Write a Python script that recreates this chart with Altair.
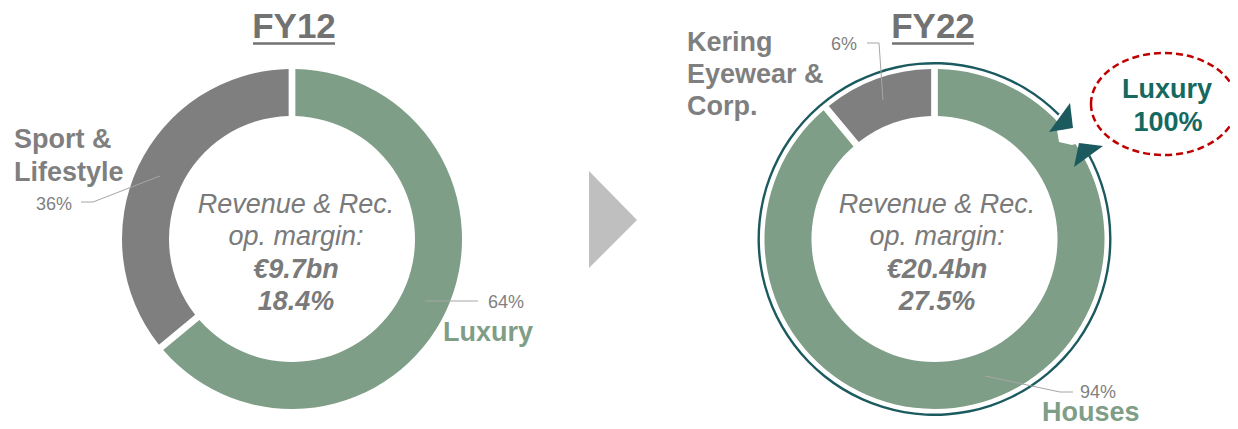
import math
import altair as alt
import pandas as pd

# ---------------- data ----------------
fy12_segments = ["Luxury", "Sport & Lifestyle"]
fy12_shares = [64, 36]            # drawn share of the ring
fy12_labels = ["64%", "36%"]

fy22_segments = ["Houses", "Kering Eyewear & Corp."]
fy22_shares = [89, 11]            # drawn share of the ring
fy22_labels = ["94%", "6%"]

titles = ["FY12", "FY22"]
center_lines_fy12 = ["Revenue & Rec.", "op. margin:", "€9.7bn", "18.4%"]
center_lines_fy22 = ["Revenue & Rec.", "op. margin:", "€20.4bn", "27.5%"]
callout_lines = ["Luxury", "100%"]

# ---------------- style ----------------
GREEN = "#7f9e87"
GRAY = "#7f7f7f"
TEXT_GRAY = "#7a7a7a"
TITLE_GRAY = "#727272"
LEADER = "#a6a6a6"
TEAL = "#1b5b5f"
TEAL_TEXT = "#16695f"
RED = "#c00000"
ARROW_GRAY = "#bfbfbf"
FONT = "Liberation Sans"

W, H = 1222, 413
M = 8  # page margin; coordinates below are page pixels

xs = alt.Scale(domain=[M, M + W], nice=False, zero=False)
ys = alt.Scale(domain=[M + H, M], nice=False, zero=False)
X = lambda f="x": alt.X(f"{f}:Q", scale=xs, axis=None)
Y = lambda f="y": alt.Y(f"{f}:Q", scale=ys, axis=None)

C1 = (292, 239)
C2 = (934.5, 239)
R_OUT, R_IN = 170, 123


def donut(names, shares, center):
    df = pd.DataFrame({
        "segment": names,
        "share": shares,
        "color": [GREEN, GRAY],
        "order": list(range(len(names))),
    })
    return alt.Chart(df).mark_arc(
        outerRadius=R_OUT, innerRadius=R_IN, padAngle=0.032
    ).encode(
        theta=alt.Theta("share:Q", stack=True),
        order=alt.Order("order:Q"),
        color=alt.Color("color:N", scale=None),
        x=alt.value(center[0] - M),
        y=alt.value(center[1] - M),
    )


layers = [donut(fy12_segments, fy12_shares, C1), donut(fy22_segments, fy22_shares, C2)]

# teal ring around FY22 (ends at the arrowheads)
ring = alt.Chart(pd.DataFrame({"k": [0]})).mark_arc(
    outerRadius=177, innerRadius=174.6,
    theta=math.radians(61), theta2=math.radians(45 + 360), color=TEAL,
).encode(x=alt.value(C2[0] - M), y=alt.value(C2[1] - M))
layers.append(ring)


def shape_layer(rows, **kw):
    df = pd.DataFrame(rows, columns=["x", "y", "shape"])
    charts = []
    for _, r in df.iterrows():
        charts.append(
            alt.Chart(pd.DataFrame([r])).mark_point(shape=r["shape"], size=4, opacity=1, **kw)
            .encode(x=X(), y=Y())
        )
    return charts

# white notch in the ring
layers += shape_layer([(1057, 130, "M0,0 L11,-1 L22,13 L15,15 L2,12 Z")], filled=True, color="white")
# teal arrowheads
layers += shape_layer([
    (1049, 132, "M0,0 L21,-29 L24,-4 Z"),
    (1074, 167, "M0,0 L5,-24 L29,-21 Z"),
], filled=True, color=TEAL)
# big grey chevron between the two years
layers += shape_layer([(589, 171, "M0,0 L0,97 L48,49 Z")], filled=True, color=ARROW_GRAY)
# dashed red ellipse
layers += shape_layer([(1164, 104, "M-73,0 A73,51 0 1,1 73,0 A73,51 0 1,1 -73,0 Z")],
                      filled=False, color=RED, strokeWidth=2.5, strokeDash=[7, 4])

# leader lines
leaders = pd.DataFrame([
    ("a", 0, 81, 202), ("a", 1, 93, 202), ("a", 2, 160, 176),
    ("b", 0, 425, 301), ("b", 1, 478, 301),
    ("c", 0, 867, 43), ("c", 1, 879, 43), ("c", 2, 883, 100),
    ("d", 0, 985, 376), ("d", 1, 1060, 392), ("d", 2, 1073, 392),
], columns=["g", "i", "x", "y"])
layers.append(alt.Chart(leaders).mark_line(color=LEADER, strokeWidth=1).encode(
    x=X(), y=Y(), detail="g:N", order="i:Q"))

# title underlines
ul = pd.DataFrame([("a", 0, 253, 43.5), ("a", 1, 335, 43.5),
                   ("b", 0, 892, 43.5), ("b", 1, 974, 43.5)], columns=["g", "i", "x", "y"])
layers.append(alt.Chart(ul).mark_line(color=TITLE_GRAY, strokeWidth=2.5).encode(
    x=X(), y=Y(), detail="g:N", order="i:Q"))


def text_layer(rows, **kw):
    df = pd.DataFrame(rows, columns=["x", "y", "t"])
    return alt.Chart(df).mark_text(font=FONT, baseline="alphabetic", **kw).encode(
        x=X(), y=Y(), text="t:N")

layers.append(text_layer([(294, 38, titles[0]), (933, 38, titles[1])],
                         fontSize=35, fontWeight="bold", color=TITLE_GRAY, align="center"))

layers.append(text_layer([
    (14, 148, "Sport &"), (14, 181, "Lifestyle"),
    (687, 51, "Kering"), (687, 83, "Eyewear &"), (687, 115, "Corp."),
], fontSize=27, fontWeight="bold", color=GRAY, align="left"))

layers.append(text_layer([(443, 341, fy12_segments[0]), (1042, 421, fy22_segments[0])],
                         fontSize=27, fontWeight="bold", color=GREEN, align="left"))

layers.append(text_layer([
    (488, 308, fy12_labels[0]), (36, 210, fy12_labels[1]),
    (1080, 398, fy22_labels[0]), (831, 50, fy22_labels[1]),
], fontSize=18, color=GRAY, align="left"))

baselines = [213, 245, 278, 310]
layers.append(text_layer([
    (296, baselines[0], center_lines_fy12[0]), (296, baselines[1], center_lines_fy12[1]),
    (937, baselines[0], center_lines_fy22[0]), (937, baselines[1], center_lines_fy22[1]),
], fontSize=27, fontStyle="italic", color=TEXT_GRAY, align="center"))
layers.append(text_layer([
    (296, baselines[2], center_lines_fy12[2]), (296, baselines[3], center_lines_fy12[3]),
    (937, baselines[2], center_lines_fy22[2]), (937, baselines[3], center_lines_fy22[3]),
], fontSize=27, fontStyle="italic", fontWeight="bold", color=TEXT_GRAY, align="center"))

layers.append(text_layer([(1167, 98, callout_lines[0]), (1168, 131, callout_lines[1])],
                         fontSize=27, fontWeight="bold", color=TEAL_TEXT, align="center"))

chart = alt.layer(*layers).properties(
    width=W, height=H, padding=0, autosize=alt.AutoSizeParams(type="none"),
    background="white",
).configure_view(stroke=None)

chart.save("out.html", embed_options={"renderer": "svg", "actions": False})
